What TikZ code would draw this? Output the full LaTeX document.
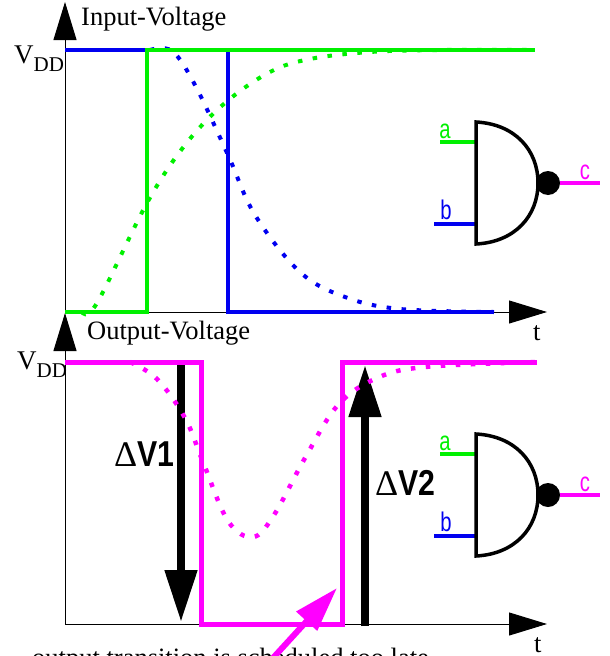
\documentclass[tikz,border=0pt]{standalone}
\usepackage{graphicx}
\usepackage{fontspec}
\setmainfont{Liberation Serif}
\newfontfamily\gatefont{Liberation Sans}
\usetikzlibrary{arrows.meta, positioning}

\definecolor{siggreen}{RGB}{0,240,0}
\definecolor{sigblue}{RGB}{0,0,240}
\definecolor{sigpink}{RGB}{255,0,255}

\newcommand{\vdd}{V\raisebox{-8pt}{\fontsize{21}{21}\selectfont DD}}
\newcommand{\dv}[1]{Δ\scalebox{.84}[1]{\gatefont\bfseries V#1}}

\tikzset{
  axis/.style={line width=1pt, -{Triangle[length=38pt,width=23pt]}},
  wave/.style={line width=3.5pt, line cap=butt, line join=miter},
  slowwave/.style={line width=4pt, dash pattern=on 4.5pt off 10.5pt},
  swing/.style={line width=8pt, -{Triangle[length=52pt,width=31pt]}},
  lbl/.style={anchor=base west, inner sep=0pt, font=\fontsize{26.5}{26.5}\selectfont},
  pinlbl/.style={inner sep=0pt, font=\fontsize{27}{27}\selectfont\gatefont},
}

\begin{document}
\begin{tikzpicture}[x=1pt, y=-1pt]
  \useasboundingbox (0,0) rectangle (610,656);

  \coordinate (top-origin) at (65,312);
  \coordinate (top-ytip) at (65,2);
  \coordinate (top-xtip) at (547,312);
  \coordinate (bot-origin) at (65,624);
  \coordinate (bot-ytip) at (65,313);
  \coordinate (bot-xtip) at (547,624);

  \draw[axis] (top-origin) -- (top-ytip);
  \draw[axis] (top-origin) -- (top-xtip);
  \draw[axis] (bot-origin) -- (bot-ytip);
  \draw[axis] (bot-origin) -- (bot-xtip);

  \node[lbl] (input-label) at (81,25) {Input-Voltage};
  \node[lbl] (output-label) at (87,339) {Output-Voltage};
  \node[lbl] (top-t) at (533,340) {t};
  \node[lbl] (bot-t) at (534,652) {t};
  \node[lbl, font=\fontsize{27}{27}\selectfont] (top-vdd) at (14,63) {\vdd};
  \node[lbl, font=\fontsize{27}{27}\selectfont] (bot-vdd) at (17,369) {\vdd};

  % swings
  \coordinate (v1-start) at (181,362);
  \coordinate (v1-end) at (181,622);
  \coordinate (v2-start) at (365,626);
  \coordinate (v2-end) at (365,365);
  \draw[swing] (v1-start) -- (v1-end);
  \draw[swing] (v2-start) -- (v2-end);
  \node[lbl, font=\fontsize{36}{36}\selectfont] (v1-label) at (114,466) {\dv{1}};
  \node[lbl, font=\fontsize{36}{36}\selectfont] (v2-label) at (375,495) {\dv{2}};

  % analog waves
  \draw[slowwave, siggreen] plot[smooth, tension=.6] coordinates
    {(82,312) (97,303) (147,203) (185,145) (225,103) (270,72) (310,59) (370,52) (440,50) (535,50)};
  \draw[slowwave, sigblue] plot[smooth, tension=.6] coordinates
    {(150,50) (172,51) (195,85) (228,155) (255,215) (300,272) (345,297) (400,309) (494,312)};
  \draw[slowwave, line width=4.5pt, sigpink] plot[smooth, tension=.6] coordinates
    {(130,362) (157,379) (185,418) (203,462) (228,521) (253,537) (274,515) (305,458) (338,405) (377,378) (425,367) (535,362)};

  % digital waves
  \draw[wave, sigblue] (65,50) -- (228,50) -- (228,312) -- (494,312);
  \draw[wave, siggreen] (65,312) -- (147,312) -- (147,50) -- (535,50);
  \draw[wave, line width=5pt, sigpink] (65,362) -- (201,362) -- (201,624) -- (342,624) -- (342,362) -- (537,362);

  % gates
  \foreach \gate/\y in {upper/0, lower/312} {
    \begin{scope}[yshift=-\y pt]
      \coordinate (\gate-a) at (440,142);
      \coordinate (\gate-b) at (434,224);
      \coordinate (\gate-ain) at (476,142);
      \coordinate (\gate-bin) at (476,224);
      \coordinate (\gate-c) at (600,183);
      \draw[line width=3.5pt, siggreen] (\gate-a) -- (\gate-ain);
      \draw[line width=3.5pt, sigblue] (\gate-b) -- (\gate-bin);
      \draw[line width=3.5pt, line join=miter, black, fill=white]
        (476,122) .. controls (515,124) and (538,150) .. (538,183)
        .. controls (538,216) and (515,242) .. (476,244) -- cycle;
      \node[circle, fill=black, minimum size=24pt, inner sep=0pt] (\gate-bubble) at (548,183) {};
      \draw[line width=3.5pt, sigpink] (\gate-bubble) -- (\gate-c);
      \node[pinlbl, siggreen] (\gate-alabel) at (445,131) {\scalebox{.75}[1]{a}};
      \node[pinlbl, sigblue] (\gate-blabel) at (446,210) {\scalebox{.75}[1]{b}};
      \node[pinlbl, sigpink] (\gate-clabel) at (585,172) {\scalebox{.75}[1]{c}};
    \end{scope}
  }

  % note at the bottom, cut by the page edge
  \node[lbl] (late-label) at (32,666) {output transition is scheduled too late};
  \coordinate (late-start) at (273,658);
  \coordinate (late-tip) at (337,588);
  \draw[line width=6pt, sigpink, -{Triangle[length=45pt,width=27pt]}] (late-start) -- (late-tip);
\end{tikzpicture}
\end{document}
